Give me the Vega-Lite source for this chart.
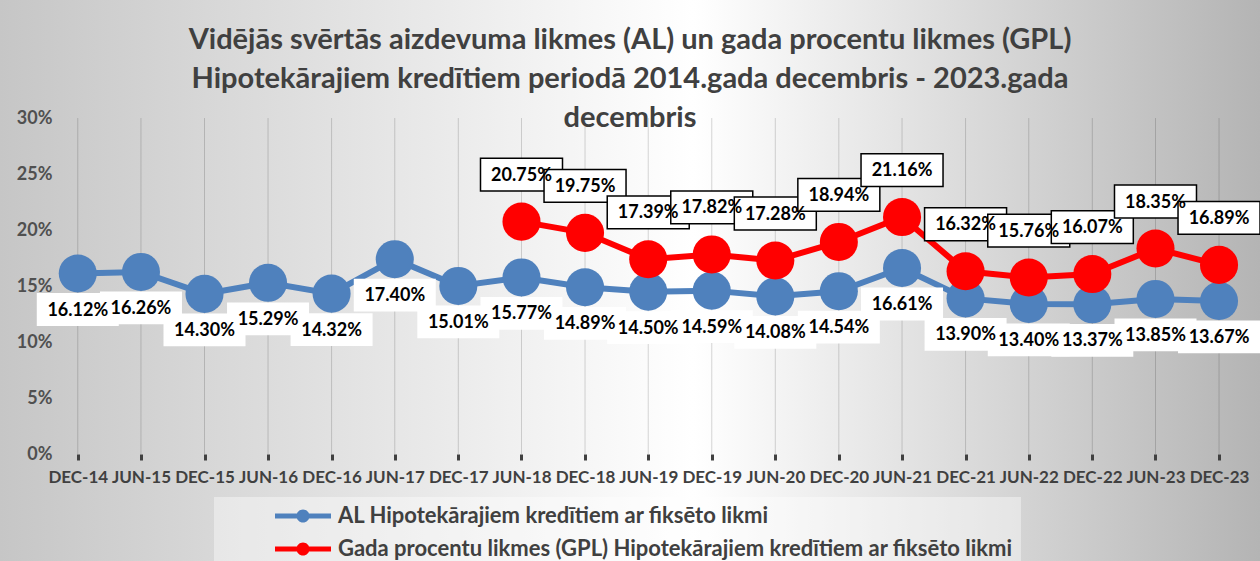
{
  "$schema": "https://vega.github.io/schema/vega-lite/v6.json",
  "width": 1260,
  "height": 561,
  "autosize": {"type": "none"},
  "padding": 0,
  "background": "#ffffff",
  "config": {
    "view": {
      "stroke": null,
      "fill": {"gradient": "linear", "x1": 0, "y1": 0, "x2": 1, "y2": 0,
        "stops": [{"offset": 0, "color": "#c6c6c6"}, {"offset": 0.55, "color": "#ffffff"}, {"offset": 1, "color": "#b4b4b4"}]}
    },
    "font": "Lato"
  },
  "title": {
    "text": ["Vidējās svērtās aizdevuma likmes (AL) un gada procentu likmes (GPL)", "Hipotekārajiem kredītiem periodā 2014.gada decembris - 2023.gada", "decembris"],
    "font": "Lato", "fontSize": 29, "fontWeight": "bold", "color": "#404040",
    "lineHeight": 39, "anchor": "middle", "baseline": "top", "offset": -133, "frame": "group"
  },
  "data": {"values": [
    {"period": "2014-12-01", "series": "AL Hipotekārajiem kredītiem ar fiksēto likmi", "value": 0.1612},
    {"period": "2015-06-01", "series": "AL Hipotekārajiem kredītiem ar fiksēto likmi", "value": 0.1626},
    {"period": "2015-12-01", "series": "AL Hipotekārajiem kredītiem ar fiksēto likmi", "value": 0.1430},
    {"period": "2016-06-01", "series": "AL Hipotekārajiem kredītiem ar fiksēto likmi", "value": 0.1529},
    {"period": "2016-12-01", "series": "AL Hipotekārajiem kredītiem ar fiksēto likmi", "value": 0.1432},
    {"period": "2017-06-01", "series": "AL Hipotekārajiem kredītiem ar fiksēto likmi", "value": 0.1740},
    {"period": "2017-12-01", "series": "AL Hipotekārajiem kredītiem ar fiksēto likmi", "value": 0.1501},
    {"period": "2018-06-01", "series": "AL Hipotekārajiem kredītiem ar fiksēto likmi", "value": 0.1577},
    {"period": "2018-12-01", "series": "AL Hipotekārajiem kredītiem ar fiksēto likmi", "value": 0.1489},
    {"period": "2019-06-01", "series": "AL Hipotekārajiem kredītiem ar fiksēto likmi", "value": 0.1450},
    {"period": "2019-12-01", "series": "AL Hipotekārajiem kredītiem ar fiksēto likmi", "value": 0.1459},
    {"period": "2020-06-01", "series": "AL Hipotekārajiem kredītiem ar fiksēto likmi", "value": 0.1408},
    {"period": "2020-12-01", "series": "AL Hipotekārajiem kredītiem ar fiksēto likmi", "value": 0.1454},
    {"period": "2021-06-01", "series": "AL Hipotekārajiem kredītiem ar fiksēto likmi", "value": 0.1661},
    {"period": "2021-12-01", "series": "AL Hipotekārajiem kredītiem ar fiksēto likmi", "value": 0.1390},
    {"period": "2022-06-01", "series": "AL Hipotekārajiem kredītiem ar fiksēto likmi", "value": 0.1340},
    {"period": "2022-12-01", "series": "AL Hipotekārajiem kredītiem ar fiksēto likmi", "value": 0.1337},
    {"period": "2023-06-01", "series": "AL Hipotekārajiem kredītiem ar fiksēto likmi", "value": 0.1385},
    {"period": "2023-12-01", "series": "AL Hipotekārajiem kredītiem ar fiksēto likmi", "value": 0.1367},
    {"period": "2018-06-01", "series": "Gada procentu likmes (GPL) Hipotekārajiem kredītiem ar fiksēto likmi", "value": 0.2075},
    {"period": "2018-12-01", "series": "Gada procentu likmes (GPL) Hipotekārajiem kredītiem ar fiksēto likmi", "value": 0.1975},
    {"period": "2019-06-01", "series": "Gada procentu likmes (GPL) Hipotekārajiem kredītiem ar fiksēto likmi", "value": 0.1739},
    {"period": "2019-12-01", "series": "Gada procentu likmes (GPL) Hipotekārajiem kredītiem ar fiksēto likmi", "value": 0.1782},
    {"period": "2020-06-01", "series": "Gada procentu likmes (GPL) Hipotekārajiem kredītiem ar fiksēto likmi", "value": 0.1728},
    {"period": "2020-12-01", "series": "Gada procentu likmes (GPL) Hipotekārajiem kredītiem ar fiksēto likmi", "value": 0.1894},
    {"period": "2021-06-01", "series": "Gada procentu likmes (GPL) Hipotekārajiem kredītiem ar fiksēto likmi", "value": 0.2116},
    {"period": "2021-12-01", "series": "Gada procentu likmes (GPL) Hipotekārajiem kredītiem ar fiksēto likmi", "value": 0.1632},
    {"period": "2022-06-01", "series": "Gada procentu likmes (GPL) Hipotekārajiem kredītiem ar fiksēto likmi", "value": 0.1576},
    {"period": "2022-12-01", "series": "Gada procentu likmes (GPL) Hipotekārajiem kredītiem ar fiksēto likmi", "value": 0.1607},
    {"period": "2023-06-01", "series": "Gada procentu likmes (GPL) Hipotekārajiem kredītiem ar fiksēto likmi", "value": 0.1835},
    {"period": "2023-12-01", "series": "Gada procentu likmes (GPL) Hipotekārajiem kredītiem ar fiksēto likmi", "value": 0.1689}
  ]},
  "encoding": {
    "x": {
      "field": "period", "type": "temporal",
      "scale": {"type": "utc", "domain": [{"year": 2014, "month": 4, "date": 21, "utc": true}, {"year": 2024, "month": 3, "date": 28, "utc": true}], "nice": false},
      "axis": {
        "title": null, "orient": "bottom", "offset": -107, "domain": false, "grid": false,
        "values": [
          {"year": 2014, "month": 12, "date": 1, "utc": true},
          {"year": 2015, "month": 6, "date": 1, "utc": true},
          {"year": 2015, "month": 12, "date": 1, "utc": true},
          {"year": 2016, "month": 6, "date": 1, "utc": true},
          {"year": 2016, "month": 12, "date": 1, "utc": true},
          {"year": 2017, "month": 6, "date": 1, "utc": true},
          {"year": 2017, "month": 12, "date": 1, "utc": true},
          {"year": 2018, "month": 6, "date": 1, "utc": true},
          {"year": 2018, "month": 12, "date": 1, "utc": true},
          {"year": 2019, "month": 6, "date": 1, "utc": true},
          {"year": 2019, "month": 12, "date": 1, "utc": true},
          {"year": 2020, "month": 6, "date": 1, "utc": true},
          {"year": 2020, "month": 12, "date": 1, "utc": true},
          {"year": 2021, "month": 6, "date": 1, "utc": true},
          {"year": 2021, "month": 12, "date": 1, "utc": true},
          {"year": 2022, "month": 6, "date": 1, "utc": true},
          {"year": 2022, "month": 12, "date": 1, "utc": true},
          {"year": 2023, "month": 6, "date": 1, "utc": true},
          {"year": 2023, "month": 12, "date": 1, "utc": true}
        ],
        "labelExpr": "upper(utcFormat(datum.value, '%b-%y'))",
        "ticks": true, "tickSize": 6, "tickWidth": 3, "tickColor": "#404040",
        "labelFont": "Lato", "labelFontSize": 17, "labelFontWeight": "bold", "labelColor": "#404040",
        "labelPadding": 9, "labelOverlap": false, "labelBound": false, "labelFlush": false, "labelAngle": 0
      }
    },
    "y": {
      "field": "value", "type": "quantitative",
      "scale": {"domain": [-0.0955, 0.4054], "nice": false, "zero": false},
      "axis": {
        "title": null, "orient": "left", "offset": -57, "domain": false, "ticks": false, "grid": false,
        "values": [0, 0.05, 0.1, 0.15, 0.2, 0.25, 0.3], "format": ".0%",
        "labelFont": "Lato", "labelFontSize": 18, "labelFontWeight": "bold", "labelColor": "#505050",
        "labelPadding": 5
      }
    }
  },
  "layer": [
    {
      "transform": [{"filter": "datum.series == 'AL Hipotekārajiem kredītiem ar fiksēto likmi'"}],
      "mark": {"type": "rule", "color": "#000000", "strokeOpacity": 0.16, "strokeWidth": 1},
      "encoding": {"y": {"datum": 0}, "y2": {"datum": 0.3}}
    },
    {
      "data": {"values": [{"start": "2014-12-01", "end": "2023-12-26"}]},
      "mark": {"type": "rule", "color": "#404040", "strokeWidth": 3},
      "encoding": {
        "x": {"field": "start", "type": "temporal"},
        "x2": {"field": "end"},
        "y": {"datum": 0}
      }
    },
    {
      "mark": {"type": "line", "strokeWidth": 6},
      "encoding": {
        "color": {
          "field": "series", "type": "nominal",
          "scale": {"domain": ["AL Hipotekārajiem kredītiem ar fiksēto likmi", "Gada procentu likmes (GPL) Hipotekārajiem kredītiem ar fiksēto likmi"], "range": ["#4f81bd", "#ff0000"]},
          "legend": {
            "orient": "none", "legendX": 214, "legendY": 497, "direction": "vertical", "title": null,
            "symbolType": "M-7,-0.36H1V0.36H-7Z M-2.07,0A0.93,0.93 0 1,1 -3.93,0A0.93,0.93 0 1,1 -2.07,0Z",
            "symbolSize": 196, "symbolStrokeWidth": 0, "symbolOffset": 91, "labelOffset": 3,
            "labelFont": "Lato", "labelFontSize": 22, "labelFontWeight": "bold", "labelColor": "#404040", "labelLimit": 0,
            "padding": 8, "rowPadding": 11, "fillColor": "rgba(255,255,255,0.4)",
            "encode": {"symbols": {"update": {"fill": {"scale": "color", "field": "value"}, "opacity": {"value": 1}}}}
          }
        }
      }
    },
    {
      "mark": {"type": "circle", "size": 1450, "opacity": 1},
      "encoding": {
        "color": {
          "field": "series", "type": "nominal",
          "scale": {"domain": ["AL Hipotekārajiem kredītiem ar fiksēto likmi", "Gada procentu likmes (GPL) Hipotekārajiem kredītiem ar fiksēto likmi"], "range": ["#4f81bd", "#ff0000"]},
          "legend": {
            "orient": "none", "legendX": 214, "legendY": 497, "direction": "vertical", "title": null,
            "symbolType": "M-7,-0.36H1V0.36H-7Z M-2.07,0A0.93,0.93 0 1,1 -3.93,0A0.93,0.93 0 1,1 -2.07,0Z",
            "symbolSize": 196, "symbolStrokeWidth": 0, "symbolOffset": 91, "labelOffset": 3,
            "labelFont": "Lato", "labelFontSize": 22, "labelFontWeight": "bold", "labelColor": "#404040", "labelLimit": 0,
            "padding": 8, "rowPadding": 11, "fillColor": "rgba(255,255,255,0.4)",
            "encode": {"symbols": {"update": {"fill": {"scale": "color", "field": "value"}, "opacity": {"value": 1}}}}
          }
        }
      }
    },
    {
      "transform": [{"filter": "datum.series == 'AL Hipotekārajiem kredītiem ar fiksēto likmi'"}],
      "mark": {"type": "point", "shape": "M-1,-0.4L1,-0.4L1,0.4L-1,0.4Z", "size": 6724, "filled": true, "fill": "#ffffff", "opacity": 1, "strokeWidth": 0, "yOffset": 36}
    },
    {
      "transform": [{"filter": "datum.series == 'AL Hipotekārajiem kredītiem ar fiksēto likmi'"}],
      "mark": {"type": "text", "font": "Lato", "fontSize": 18, "fontWeight": "bold", "color": "#000000", "baseline": "middle", "align": "center", "yOffset": 37},
      "encoding": {"text": {"field": "value", "type": "quantitative", "format": ".2%"}}
    },
    {
      "transform": [{"filter": "datum.series != 'AL Hipotekārajiem kredītiem ar fiksēto likmi'"}],
      "mark": {"type": "point", "shape": "M-1,-0.4L1,-0.4L1,0.4L-1,0.4Z", "size": 6724, "filled": true, "fill": "#ffffff", "opacity": 1, "stroke": "#000000", "strokeWidth": 1.5, "yOffset": -47}
    },
    {
      "transform": [{"filter": "datum.series != 'AL Hipotekārajiem kredītiem ar fiksēto likmi'"}],
      "mark": {"type": "text", "font": "Lato", "fontSize": 18, "fontWeight": "bold", "color": "#000000", "baseline": "middle", "align": "center", "yOffset": -46},
      "encoding": {"text": {"field": "value", "type": "quantitative", "format": ".2%"}}
    }
  ]
}
